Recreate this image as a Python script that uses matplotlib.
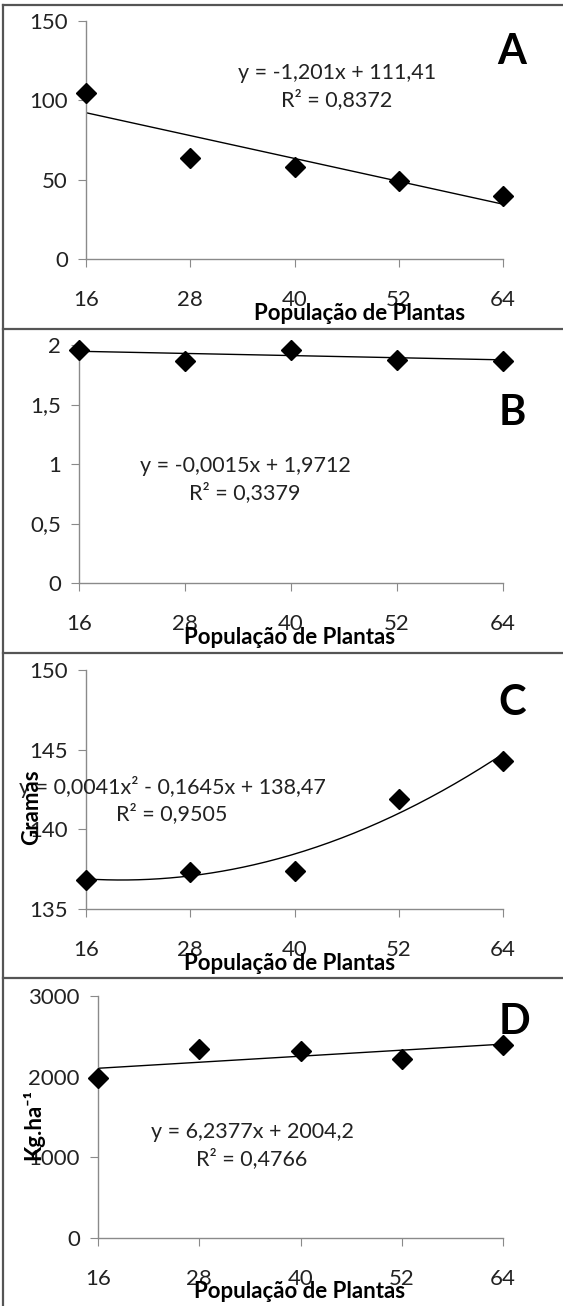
import numpy as np
import matplotlib.pyplot as plt
from matplotlib.lines import Line2D

plt.rcParams['font.family'] = ['Lato', 'DejaVu Sans']

W, H = 563, 1306

# data
pop = [16, 28, 40, 52, 64]
a_vals = [104.8, 63.5, 58.2, 49.2, 39.7]
b_vals = [1.956, 1.864, 1.956, 1.870, 1.864]
c_vals = [136.8, 137.34, 137.4, 141.9, 144.3]
d_vals = [1978, 2349, 2316, 2217, 2398]

# trend line coefficients (highest power first), as printed on the chart
a_fit = [-1.201, 111.41]
b_fit = [-0.0015, 1.9712]
c_fit = [0.0041, -0.1645, 138.47]
d_fit = [6.2377, 2004.2]

a_eq = ['y = -1,201x + 111,41', 'R² = 0,8372']
b_eq = ['y = -0,0015x + 1,9712', 'R² = 0,3379']
c_eq = ['y = 0,0041x² - 0,1645x + 138,47', 'R² = 0,9505']
d_eq = ['y = 6,2377x + 2004,2', 'R² = 0,4766']

a_ticks = [0, 50, 100, 150]
b_ticks = [0, 0.5, 1, 1.5, 2]
c_ticks = [135, 140, 145, 150]
d_ticks = [0, 1000, 2000, 3000]

fig = plt.figure(figsize=(W / 100, H / 100), dpi=100)


def fx(x):
    return x / W


def fy(y):
    return 1 - y / H


def panel(box, vals, fit, ticks, ylim, fmt, eq, eqpos, letter, letpos, xlabpos, ylab=None, ylabpos=None):
    x0, y0, x1, y1 = box
    ax = fig.add_axes([fx(x0), fy(y1), (x1 - x0) / W, (y1 - y0) / H])
    xs = np.linspace(16, 64, 200)
    ax.plot(xs, np.polyval(fit, xs), color='black', lw=1.0, zorder=2)
    ax.plot(pop, vals, 'D', color='black', ms=10, zorder=3, clip_on=False)
    ax.set_xlim(16, 64)
    ax.set_ylim(*ylim)
    ax.set_xticks(pop)
    ax.set_yticks(ticks)
    ax.set_yticklabels([fmt(t) for t in ticks])
    for s in ['top', 'right']:
        ax.spines[s].set_visible(False)
    for s in ['left', 'bottom']:
        ax.spines[s].set_color('#8a8a8a')
        ax.spines[s].set_linewidth(1.0)
    ax.tick_params(axis='both', direction='out', color='#8a8a8a', labelsize=16, labelcolor='#222222')
    ax.tick_params(axis='x', length=6, pad=16)
    ax.tick_params(axis='y', length=6, pad=7)
    ax.patch.set_visible(False)
    fig.text(fx(eqpos[0]), fy(eqpos[1]), eq[0], fontsize=15.5, ha='center', va='center', color='#222222')
    fig.text(fx(eqpos[0]), fy(eqpos[1] + 27), eq[1], fontsize=15.5, ha='center', va='center', color='#222222')
    fig.text(fx(letpos[0]), fy(letpos[1]), letter, fontsize=30, fontweight='bold', ha='center', va='center')
    fig.text(fx(xlabpos[0]), fy(xlabpos[1]), 'População de Plantas', fontsize=16, fontweight='bold',
             ha='center', va='center')
    if ylab:
        fig.text(fx(ylabpos[0]), fy(ylabpos[1]), ylab, fontsize=16, fontweight='bold', rotation=90,
                 ha='center', va='center')
    return ax


def fmt_int(t):
    return '%d' % t


def fmt_dec(t):
    return ('%g' % t).replace('.', ',')


panel((86, 21, 503, 259), a_vals, a_fit, a_ticks, (0, 150), fmt_int, a_eq, (337, 73),
      'A', (512, 52), (360, 314))
panel((79, 345, 503, 583), b_vals, b_fit, b_ticks, (0, 2), fmt_dec, b_eq, (245, 466),
      'B', (512, 413), (290, 638))
panel((86, 670, 503, 909), c_vals, c_fit, c_ticks, (135, 150), fmt_int, c_eq, (172, 787),
      'C', (512, 703), (290, 963), 'Gramas', (32, 807))
panel((98, 996, 503, 1238), d_vals, d_fit, d_ticks, (0, 3000), fmt_int, d_eq, (252, 1132),
      'D', (514, 1022), (300, 1291), 'Kg.ha⁻¹', (33, 1125))

# panel frames
edge = '#555555'
fig.add_artist(Line2D([fx(3), fx(3)], [fy(5), fy(H)], color=edge, lw=1.6))
for yy in [5, 329, 653, 978]:
    fig.add_artist(Line2D([fx(3), 1], [fy(yy), fy(yy)], color=edge, lw=1.6))

fig.savefig('out.png', dpi=100)
